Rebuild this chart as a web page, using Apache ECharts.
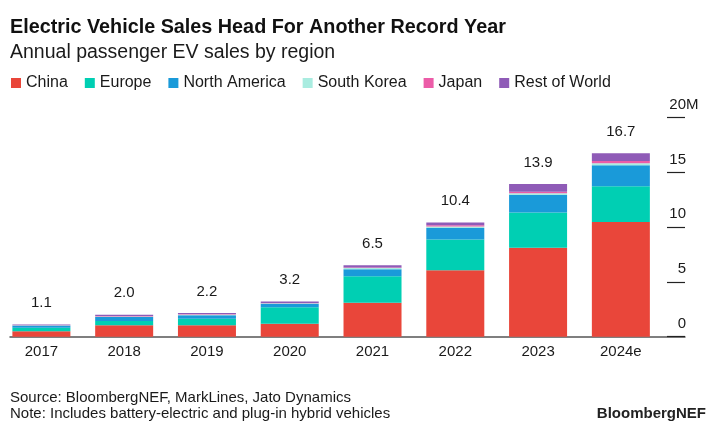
<!DOCTYPE html>
<html>
<head>
<meta charset="utf-8">
<script src="https://cdn.jsdelivr.net/npm/echarts@6/dist/echarts.min.js"></script>
<style>
html,body{margin:0;padding:0;background:#fff;}
#chart{width:727px;height:439px;}
</style>
</head>
<body>
<div id="chart"></div>
<script>
const categories = ['2017','2018','2019','2020','2021','2022','2023','2024e'];
const china  = [0.50, 1.05, 1.05, 1.17, 3.10, 6.05, 8.10, 10.45];
const europe = [0.32, 0.38, 0.58, 1.50, 2.40, 2.80, 3.20, 3.25];
const northAmerica = [0.20, 0.36, 0.33, 0.32, 0.65, 1.05, 1.60, 1.90];
const southKorea = [0.02, 0.05, 0.06, 0.05, 0.10, 0.13, 0.15, 0.20];
const japan  = [0.03, 0.05, 0.04, 0.03, 0.05, 0.12, 0.15, 0.20];
const restOfWorld = [0.03, 0.11, 0.10, 0.13, 0.20, 0.25, 0.70, 0.70];
const totalLabels = ['1.1','2.0','2.2','3.2','6.5','10.4','13.9','16.7'];
const yTicks = [0, 5, 10, 15, 20];
const yUnit = 'M';

const FONT = "'Liberation Sans', Arial, sans-serif";
const TXT = '#1a1a1a';

const chart = echarts.init(document.getElementById('chart'), null, {renderer:'canvas'});

function bar(name, data, color, extra) {
  return Object.assign({
    name, type:'bar', stack:'total', data, barWidth:58,
    xAxisIndex:0, yAxisIndex:0,
    itemStyle:{color}, emphasis:{disabled:true}, animation:false
  }, extra || {});
}

const option = {
  backgroundColor:'#fff',
  animation:false,
  title:[
    {text:'Electric Vehicle Sales Head For Another Record Year', left:10, top:18, padding:0,
     textStyle:{fontFamily:FONT, fontSize:19.8, fontWeight:'bold', color:'#111'}},
    {text:'Annual passenger EV sales by region', left:10, top:42.5, padding:0,
     textStyle:{fontFamily:FONT, fontSize:19.5, fontWeight:'normal', color:TXT}},
    {text:'Source: BloombergNEF, MarkLines, Jato Dynamics', left:10, top:390, padding:0,
     textStyle:{fontFamily:FONT, fontSize:15, fontWeight:'normal', color:TXT}},
    {text:'Note: Includes battery-electric and plug-in hybrid vehicles', left:10, top:406, padding:0,
     textStyle:{fontFamily:FONT, fontSize:15, fontWeight:'normal', color:TXT}},
    {text:'BloombergNEF', right:21, top:406, padding:0,
     textStyle:{fontFamily:FONT, fontSize:15, fontWeight:'bold', color:'#222'}}
  ],
  legend:{
    left:11, top:75, padding:0, icon:'rect', itemWidth:10, itemHeight:10, itemGap:17,
    textStyle:{fontFamily:FONT, fontSize:16, color:TXT},
    data:['China','Europe','North America','South Korea','Japan','Rest of World'],
    selectedMode:false
  },
  grid:[
    {left:-2.55, right:64.75, top:117, bottom:102.3},
    {left:10, right:42, top:117, bottom:102.3}
  ],
  xAxis:[
    {type:'category', gridIndex:0, data:categories,
     axisLine:{show:false}, axisTick:{show:false},
     axisLabel:{fontFamily:FONT, fontSize:15, color:TXT, margin:8}},
    {type:'value', gridIndex:1, min:0, max:1,
     axisLine:{show:true, onZero:false, lineStyle:{color:'#555', width:1.5}},
     axisTick:{show:false}, axisLabel:{show:false}, splitLine:{show:false}}
  ],
  yAxis:[
    {type:'value', gridIndex:0, min:0, max:20, interval:5, show:false},
    {type:'value', gridIndex:1, min:0, max:20, interval:5, position:'right',
     name:yUnit, nameLocation:'end', nameGap:0, nameMoveOverlap:false,
     nameTextStyle:{fontFamily:FONT, fontSize:15, color:TXT, align:'left',
       verticalAlign:'bottom', padding:[0,0,5,1]},
     axisLine:{show:false, onZero:false},
     axisTick:{show:true, inside:true, length:18, lineStyle:{color:'#222', width:1.2}},
     splitLine:{show:false},
     axisLabel:{fontFamily:FONT, fontSize:15, color:TXT, align:'right', margin:1,
       verticalAlign:'bottom', padding:[0,0,5,0]}}
  ],
  series:[
    bar('China', china, '#E9463A'),
    bar('Europe', europe, '#00CFB3'),
    bar('North America', northAmerica, '#1A9AD9'),
    bar('South Korea', southKorea, '#A9ECE0'),
    bar('Japan', japan, '#EC5CA8'),
    bar('Rest of World', restOfWorld, '#8F5BB7', {
      label:{show:true, position:'top', distance:14,
        fontFamily:FONT, fontSize:15, color:TXT,
        formatter:function(p){ return totalLabels[p.dataIndex]; }}
    })
  ]
};
chart.setOption(option);
</script>
</body>
</html>
